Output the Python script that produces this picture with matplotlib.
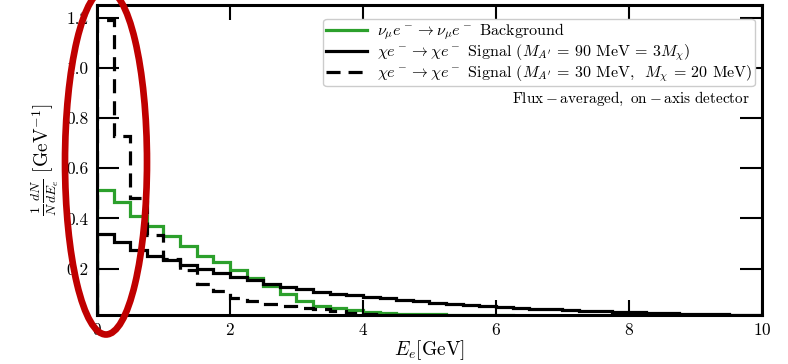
import numpy as np
import matplotlib
matplotlib.use("Agg")
import matplotlib.pyplot as plt
from matplotlib.patches import Ellipse

plt.rcParams['font.family'] = 'serif'
plt.rcParams['font.serif'] = ['cmr10', 'DejaVu Serif']
plt.rcParams['mathtext.fontset'] = 'cm'
plt.rcParams['axes.unicode_minus'] = False
plt.rcParams['axes.formatter.use_mathtext'] = True

# bin edges in GeV (0.25 GeV bins)
edges = np.arange(0, 10.25, 0.25)

# nu_mu e- background
background = [0.515, 0.465, 0.41, 0.368, 0.33, 0.29, 0.252, 0.225, 0.196, 0.162,
              0.13, 0.098, 0.072, 0.05, 0.042, 0.034, 0.028, 0.024, 0.021, 0.019,
              0.018, 0.017, 0.016, 0.015, 0.014, 0.013, 0.012, 0.011, 0.010, 0.009,
              0.008, 0.008, 0.007, 0.007, 0.006, 0.006, 0.005, 0.005, 0.004, 0.004]

# chi e- signal, M_A' = 90 MeV = 3 M_chi
signal_90 = [0.34, 0.305, 0.275, 0.25, 0.235, 0.215, 0.197, 0.184, 0.168, 0.154,
             0.14, 0.128, 0.118, 0.108, 0.1, 0.094, 0.088, 0.082, 0.076, 0.07,
             0.064, 0.059, 0.055, 0.051, 0.047, 0.044, 0.041, 0.038, 0.035, 0.032,
             0.03, 0.028, 0.026, 0.024, 0.022, 0.02, 0.019, 0.018, 0.017, 0.016]

# chi e- signal, M_A' = 30 MeV, M_chi = 20 MeV
signal_30 = [1.19, 0.73, 0.48, 0.335, 0.24, 0.195, 0.137, 0.113, 0.085, 0.07,
             0.058, 0.05, 0.045, 0.038, 0.03, 0.025, 0.02, 0.016, 0.013, 0.011,
             0.01, 0.009, 0.008, 0.007, 0.006, 0.005, 0.005, 0.004, 0.004, 0.003,
             0.003, 0.003, 0.002, 0.002, 0.002, 0.002, 0.001, 0.001, 0.001, 0.001]

fig = plt.figure(figsize=(7.88, 3.64), dpi=100)
ax = fig.add_axes([0.123, 0.135, 0.844, 0.851])

ax.stairs(background, edges, color='#2ca02c', lw=2.3,
          label=r'$\nu_\mu e^- \rightarrow \nu_\mu e^-$ Background')
ax.stairs(signal_90, edges, color='black', lw=2.3,
          label=r"$\chi e^- \rightarrow \chi e^-$ Signal ($M_{A'}$ = 90 MeV = 3$M_\chi$)")
ax.stairs(signal_30, edges, color='black', lw=2.3, ls=(0, (4.4, 2.5)),
          label=r"$\chi e^- \rightarrow \chi e^-$ Signal ($M_{A'}$ = 30 MeV,  $M_\chi$ = 20 MeV)")

ax.set_xlim(0, 10)
ax.set_ylim(0.016, 1.25)
ax.set_xticks([0, 2, 4, 6, 8, 10])
ax.set_yticks([0.2, 0.4, 0.6, 0.8, 1.0, 1.2])
ax.set_yticklabels(['0.2', '0.4', '0.6', '0.8', '1.0', '1.2'])

ax.tick_params(axis='x', direction='in', length=11, width=1.5, top=True,
               labelsize=12.5, pad=5)
ax.tick_params(axis='y', direction='in', length=16, width=1.5, right=True,
               labelsize=12.5, pad=6)
for s in ax.spines.values():
    s.set_linewidth(2.2)

ax.set_xlabel(r'$E_e[\mathrm{GeV}]$', fontsize=14, labelpad=0)
ax.set_ylabel(r'$\frac{1}{N}\frac{dN}{dE_e}\ [\mathrm{GeV}^{-1}]$', fontsize=14, labelpad=4)

leg = ax.legend(loc='upper right', bbox_to_anchor=(0.989, 0.955), borderaxespad=0,
                fontsize=11.5, handlelength=2.6, borderpad=0.15, labelspacing=0.02,
                handletextpad=0.6, fancybox=True, framealpha=1, edgecolor='#cccccc')

# put the note just under the legend box
fig.canvas.draw()
bb = leg.get_window_extent().transformed(ax.transAxes.inverted())
ax.text(0.982, bb.y0 - 0.012, r'$\mathrm{Flux-averaged,\ on-axis\ detector}$',
        transform=ax.transAxes, ha='right', va='top', fontsize=11)

# red ellipse drawn over the low-energy region
ell = Ellipse((106 / 788, 1 - 162 / 364), 82 / 788, 345 / 364,
              transform=fig.transFigure, fill=False, edgecolor='#c00000',
              lw=4.8, clip_on=False, zorder=10)
fig.patches.append(ell)

fig.savefig('out.png', dpi=100)
